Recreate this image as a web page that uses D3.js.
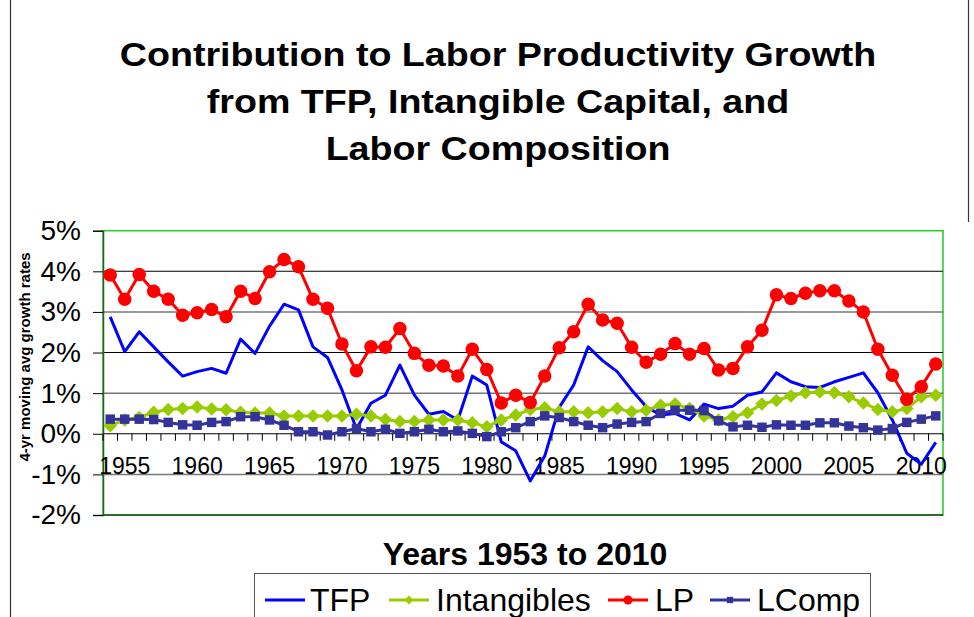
<!DOCTYPE html>
<html>
<head>
<meta charset="utf-8">
<script src="https://cdn.jsdelivr.net/npm/d3@7"></script>
<style>
  body { margin: 0; background: #fff; }
  svg { display: block; font-family: "Liberation Sans", Arial, sans-serif; }
</style>
</head>
<body>
<div id="chart"></div>
<script>
let width = 974,
  height = 617

// categories: 1954 .. 2011, labelled every 5 years
let years = d3.range(1954, 2012)
let labelYears = [1955, 1960, 1965, 1970, 1975, 1980, 1985, 1990, 1995, 2000, 2005, 2010]
let yTicks = [-0.02, -0.01, 0, 0.01, 0.02, 0.03, 0.04, 0.05]

// values in percent
let tfp = [2.88, 2.02, 2.51, 2.14, 1.77, 1.42, 1.53, 1.61, 1.49, 2.33, 1.98, 2.65,
  3.19, 3.05, 2.14, 1.88, 1.08, 0.12, 0.75, 0.95, 1.69, 0.95, 0.48, 0.55, 0.34,
  1.42, 1.2, -0.2, -0.42, -1.16, -0.55, 0.65, 1.2, 2.14, 1.8, 1.53, 1.08, 0.67,
  0.46, 0.5, 0.34, 0.73, 0.62, 0.68, 0.95, 1.03, 1.5, 1.28, 1.16, 1.14, 1.28,
  1.39, 1.5, 1.01, 0.34, -0.48, -0.75, -0.21]
let intangibles = [0.2, 0.34, 0.4, 0.53, 0.6, 0.62, 0.66, 0.61, 0.59, 0.53, 0.51, 0.51,
  0.44, 0.44, 0.44, 0.44, 0.44, 0.48, 0.44, 0.35, 0.3, 0.3, 0.34, 0.34, 0.34,
  0.27, 0.17, 0.34, 0.46, 0.6, 0.64, 0.54, 0.54, 0.52, 0.54, 0.62, 0.54, 0.58,
  0.7, 0.73, 0.62, 0.44, 0.34, 0.42, 0.52, 0.73, 0.82, 0.93, 1.01, 1.03, 1.01,
  0.91, 0.76, 0.6, 0.54, 0.62, 0.91, 0.95]
let lp = [3.91, 3.31, 3.92, 3.51, 3.31, 2.92, 2.98, 3.06, 2.88, 3.51, 3.33, 3.99,
  4.29, 4.11, 3.31, 3.09, 2.21, 1.55, 2.14, 2.13, 2.59, 1.98, 1.69, 1.67, 1.42,
  2.08, 1.58, 0.76, 0.95, 0.77, 1.42, 2.12, 2.51, 3.19, 2.8, 2.72, 2.13, 1.76,
  1.96, 2.22, 1.96, 2.1, 1.57, 1.61, 2.14, 2.55, 3.42, 3.33, 3.46, 3.52, 3.52,
  3.27, 3.0, 2.08, 1.44, 0.85, 1.16, 1.72]
let lcomp = [0.36, 0.36, 0.36, 0.35, 0.28, 0.22, 0.21, 0.28, 0.3, 0.42, 0.42, 0.34,
  0.21, 0.05, 0.05, -0.03, 0.05, 0.13, 0.05, 0.11, 0.01, 0.05, 0.11, 0.05, 0.07,
  0.01, -0.07, 0.05, 0.15, 0.3, 0.44, 0.4, 0.3, 0.21, 0.15, 0.24, 0.28, 0.3,
  0.5, 0.58, 0.58, 0.57, 0.32, 0.17, 0.21, 0.16, 0.22, 0.21, 0.21, 0.27, 0.27,
  0.19, 0.15, 0.09, 0.13, 0.28, 0.36, 0.44]

let seriesNames = ['TFP', 'Intangibles', 'LP', 'LComp']
let seriesValues = [tfp, intangibles, lp, lcomp]
let seriesColors = ['#0000ff', '#99cc00', '#ff0000', '#333399']
let seriesMarkers = [null, 'diamond', 'circle', 'square']

let plot = { left: 103, right: 943, top: 230.7, bottom: 515 }

let svg = d3.select('#chart').append('svg')
  .attr('width', width)
  .attr('height', height)

// chart area edges
svg.append('line')
  .attr('x1', 10.5).attr('x2', 10.5).attr('y1', 0).attr('y2', height)
  .attr('stroke', '#333').attr('stroke-width', 1.2)
svg.append('line')
  .attr('x1', 968.5).attr('x2', 968.5).attr('y1', 0).attr('y2', 222)
  .attr('stroke', '#333').attr('stroke-width', 1.2)

let x = d3.scaleBand()
  .domain(years)
  .range([plot.left, plot.right])

let y = d3.scaleLinear()
  .domain([-0.02, 0.05])
  .range([plot.bottom, plot.top])

let cx = d => x(d) + x.bandwidth() / 2

// title
let titleLines = ['Contribution to Labor Productivity Growth',
  'from TFP, Intangible Capital, and', 'Labor Composition']
svg.append('g').selectAll('text')
  .data(titleLines)
  .enter().append('text')
  .attr('transform', (d, i) => 'translate(498,' + (66 + i * 47) + ') scale(1.14,1)')
  .attr('text-anchor', 'middle')
  .style('font-weight', 'bold')
  .style('font-size', '33px')
  .text(d => d)

// plot background and border
svg.append('rect')
  .attr('x', plot.left).attr('y', plot.top)
  .attr('width', plot.right - plot.left).attr('height', plot.bottom - plot.top)
  .attr('fill', '#fff')
  .attr('stroke', '#22cc22')
  .attr('stroke-width', 1.5)

// gridlines
svg.append('g')
  .selectAll('line')
  .data(yTicks.filter(d => d < 0.05))
  .enter().append('line')
  .attr('x1', plot.left).attr('x2', plot.right)
  .attr('y1', d => y(d)).attr('y2', d => y(d))
  .attr('stroke', (d, i) => i % 2 ? '#777' : '#000')
  .attr('stroke-width', (d, i) => i % 2 ? 1.5 : 1.1)

// value axis
let pct = d3.format('.0%')
let yAxis = svg.append('g')
  .attr('transform', 'translate(' + plot.left + ',0)')
  .call(d3.axisLeft(y).tickValues(yTicks).tickFormat(d => pct(d).replace('\u2212', '-'))
    .tickSize(10).tickPadding(12))
yAxis.select('.domain').attr('stroke', '#2f5a2f').attr('stroke-width', 1.5)
yAxis.selectAll('.tick line').attr('stroke', '#000')
yAxis.selectAll('.tick text')
  .style('font-size', '28px')
  .style('font-family', '"Liberation Sans", Arial, sans-serif')
  .attr('fill', '#000')

// category ticks on the zero line
let tickPos = years.map(d => x(d)).concat([plot.right])
svg.append('g').selectAll('line')
  .data(tickPos)
  .enter().append('line')
  .attr('x1', d => d).attr('x2', d => d)
  .attr('y1', y(0)).attr('y2', y(0) + 7)
  .attr('stroke', '#000')

svg.append('g').selectAll('text')
  .data(labelYears)
  .enter().append('text')
  .attr('x', d => cx(d))
  .attr('y', 474)
  .attr('text-anchor', 'middle')
  .style('font-size', '23px')
  .text(d => d)

// axis titles
svg.append('text')
  .attr('transform', 'translate(30,357) rotate(-90)')
  .attr('text-anchor', 'middle')
  .style('font-weight', 'bold')
  .style('font-size', '15px')
  .text('4-yr moving avg growth rates')

svg.append('text')
  .attr('x', 525)
  .attr('y', 565)
  .attr('text-anchor', 'middle')
  .style('font-weight', 'bold')
  .style('font-size', '32px')
  .text('Years 1953 to 2010')

function drawMarker (sel, type, color, s) {
  if (type === 'circle') {
    sel.append('circle').attr('r', s * 0.5).attr('fill', color)
  } else if (type === 'square') {
    sel.append('rect').attr('x', -s * 0.35).attr('y', -s * 0.35)
      .attr('width', s * 0.7).attr('height', s * 0.7).attr('fill', color)
  } else if (type === 'diamond') {
    sel.append('path')
      .attr('d', 'M0,' + (-s / 2) + 'L' + (s / 2) + ',0L0,' + (s / 2) + 'L' + (-s / 2) + ',0Z')
      .attr('fill', color)
  }
}

// series
let line = d3.line()
  .x((d, i) => cx(years[i]))
  .y(d => y(d / 100))

seriesValues.forEach(function (vals, k) {
  let g = svg.append('g').attr('class', 'series')
  g.append('path')
    .datum(vals)
    .attr('d', line)
    .attr('fill', 'none')
    .attr('stroke', seriesColors[k])
    .attr('stroke-width', 3)
    .attr('stroke-linejoin', 'round')
  if (seriesMarkers[k]) {
    g.selectAll('.pt')
      .data(vals)
      .enter().append('g')
      .attr('class', 'pt')
      .attr('transform', (d, i) => 'translate(' + cx(years[i]) + ',' + y(d / 100) + ')')
      .each(function () {
        drawMarker(d3.select(this), seriesMarkers[k], seriesColors[k], 13.5)
      })
  }
})

// legend
let legend = svg.append('g')
legend.append('rect')
  .attr('x', 254.5).attr('y', 573.5)
  .attr('width', 616).attr('height', 60)
  .attr('fill', '#fff')
  .attr('stroke', '#555')
let legendX = [265, 389, 608, 710]
let legendTextX = [310, 436, 655, 757]
seriesNames.forEach(function (name, k) {
  legend.append('line')
    .attr('x1', legendX[k]).attr('x2', legendX[k] + 40)
    .attr('y1', 600).attr('y2', 600)
    .attr('stroke', seriesColors[k])
    .attr('stroke-width', 3)
  if (seriesMarkers[k]) {
    let m = legend.append('g').attr('transform', 'translate(' + (legendX[k] + 20) + ',600)')
    drawMarker(m, seriesMarkers[k], seriesColors[k], 9)
  }
  legend.append('text')
    .attr('x', legendTextX[k])
    .attr('y', 611)
    .style('font-size', '32px')
    .text(name)
})
</script>
</body>
</html>
